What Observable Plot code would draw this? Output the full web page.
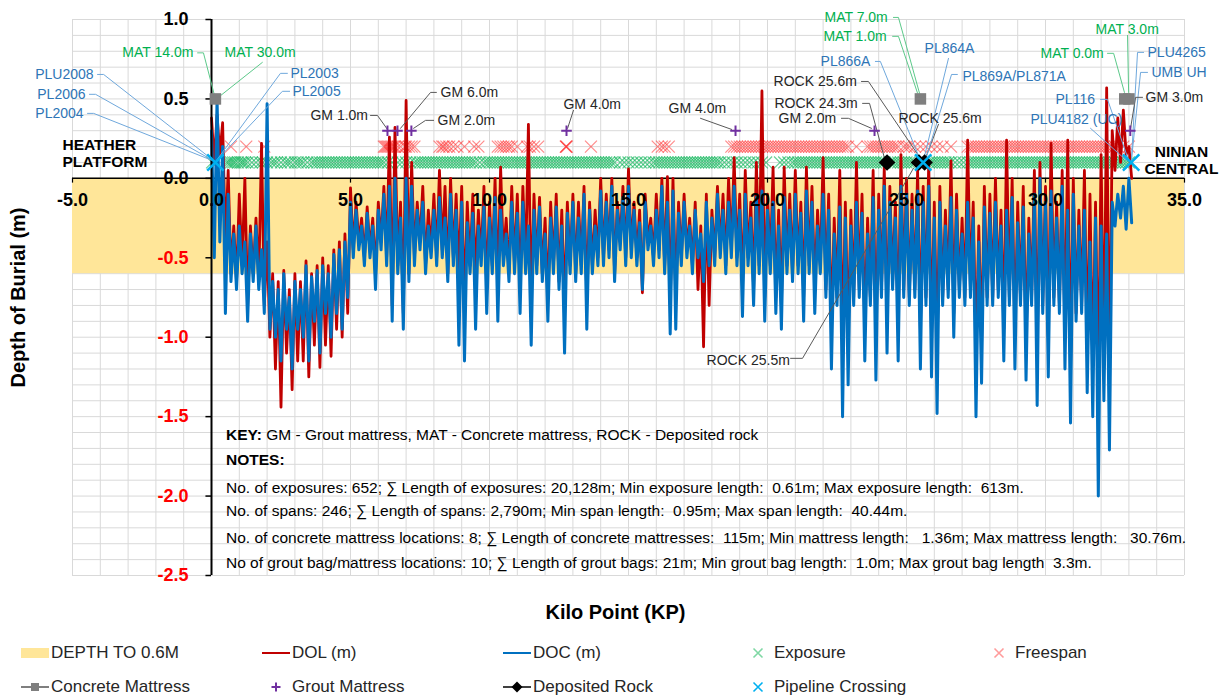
<!DOCTYPE html>
<html><head><meta charset="utf-8">
<script src="https://cdn.jsdelivr.net/npm/d3@7"></script>
<script src="https://cdn.jsdelivr.net/npm/@observablehq/plot@0.6"></script>
<style>
body{margin:0;background:#fff;font-family:"Liberation Sans",Arial,sans-serif;}
#wrap{position:relative;width:1226px;height:697px;overflow:hidden;}
#chart svg{display:block;}
#legend{position:absolute;left:0;top:630px;width:1226px;height:67px;font-size:17px;color:#262626;}
.li{position:absolute;height:20px;line-height:20px;white-space:nowrap;}
.li svg{position:absolute;top:3px;}
</style></head><body><div id="wrap"><div id="chart"></div><div id="legend"></div></div>
<script>
// ---------- axis / tick values ----------
const xDomain = [-5, 35];
const yDomain = [-2.5, 1.0];
const xTicks = [-5, 0, 5, 10, 15, 20, 25, 30, 35];
const yTicks = [1.0, 0.5, 0.0, -0.5, -1.0, -1.5, -2.0, -2.5];
const xGrid = d3.range(-5, 36, 1);
const yGrid = d3.range(-25, 11).map(d => d / 10);
const bandDepth = 0.6;

// ---------- DOC / DOL readings (every 0.2 km: high at KP, low at KP+0.1) ----------
const kpStep = 0.2;
const docHi = [
 0.30,0.50,0.20,-0.10,-0.35,-0.30,-0.40,-0.35,-0.30,-0.45,
 0.47,-0.65,-0.70,-0.60,-0.75,-0.65,-0.70,-0.55,-0.62,-0.58,
 -0.55,-0.60,-0.48,-0.45,-0.40,-0.15,-0.20,-0.30,-0.22,-0.30,
 -0.20,-0.10,-0.05,0.00,-0.25,0.00,-0.05,-0.20,-0.15,-0.30,
 -0.20,-0.12,-0.25,-0.10,-0.20,-0.15,-0.28,-0.22,-0.30,-0.18,
 -0.25,-0.12,-0.20,-0.35,-0.15,-0.22,-0.15,-0.30,-0.20,-0.18,
 -0.35,-0.25,-0.18,-0.30,-0.22,-0.15,-0.25,-0.10,-0.20,-0.30,
 -0.08,-0.15,-0.05,-0.20,-0.12,-0.05,-0.20,-0.28,-0.15,-0.30,
 -0.20,-0.05,-0.15,-0.08,-0.22,-0.15,-0.30,-0.20,-0.35,-0.15,
 -0.25,-0.10,-0.20,-0.15,-0.05,-0.20,-0.10,-0.25,-0.12,-0.08,
 -0.20,-0.15,-0.30,-0.12,-0.20,-0.10,-0.22,-0.08,-0.15,-0.30,
 -0.10,-0.20,-0.35,-0.18,-0.25,-0.30,-0.15,-0.22,-0.35,-0.12,
 -0.20,-0.05,-0.15,-0.25,-0.05,-0.10,-0.20,-0.08,-0.15,-0.05,
 -0.25,-0.15,-0.30,-0.12,-0.20,-0.35,-0.15,-0.25,-0.40,-0.18,
 -0.22,-0.15,-0.30,-0.20,-0.12,-0.28,-0.18,-0.35,-0.10,0.00,
 -0.15,-0.08,-0.25,-0.05,-0.20,-0.10,-0.30,-0.20,-0.40,-0.25,
 -0.30,-0.35,-0.15,-0.10,-0.05,0.00];
const docLo = [
 -0.50,-0.40,-0.85,-0.65,-0.70,-0.60,-0.90,-0.65,-0.70,-0.85,
 -0.95,-1.00,-1.15,-0.95,-1.20,-0.95,-1.00,-1.15,-0.90,-1.10,
 -0.85,-1.00,-0.85,-0.95,-0.75,-0.50,-0.45,-0.55,-0.50,-0.70,
 -0.45,-0.55,-0.90,-0.60,-0.95,-0.65,-0.55,-0.45,-0.60,-0.50,
 -0.55,-0.50,-0.65,-0.55,-1.05,-1.15,-0.60,-0.95,-0.55,-0.85,
 -0.60,-0.90,-0.55,-0.65,-0.60,-0.85,-0.60,-1.05,-0.60,-0.65,
 -0.90,-0.60,-0.70,-1.10,-0.60,-0.65,-0.60,-0.95,-0.60,-0.55,
 -0.55,-0.50,-0.65,-0.45,-0.55,-0.50,-0.55,-0.70,-0.45,-0.55,
 -0.50,-0.60,-0.98,-0.95,-0.55,-0.50,-0.60,-0.50,-0.65,-0.55,
 -0.55,-0.50,-0.60,-0.50,-0.55,-0.87,-0.55,-0.80,-0.60,-0.90,
 -0.60,-0.85,-0.95,-0.60,-0.65,-0.60,-0.90,-0.60,-0.85,-0.60,
 -0.75,-1.20,-0.80,-1.50,-1.30,-0.80,-0.75,-1.15,-0.80,-1.27,
 -0.75,-1.10,-0.70,-1.15,-0.75,-0.80,-0.75,-1.20,-0.80,-1.25,
 -1.48,-0.80,-0.75,-1.00,-0.75,-0.80,-0.75,-1.50,-1.29,-0.80,
 -0.80,-0.75,-1.15,-0.80,-1.20,-0.80,-1.27,-0.80,-1.43,-0.85,
 -1.25,-0.80,-0.85,-1.20,-1.54,-0.90,-0.85,-1.35,-1.50,-2.00,
 -1.40,-1.71,-0.30,-0.25,-0.32,-0.28];
const dolHi = [
 0.38,0.40,0.35,0.05,-0.30,-0.10,0.00,-0.30,-0.25,0.22,
 -0.40,-0.60,-0.65,-0.58,-0.70,-0.60,-0.65,-0.52,-0.60,-0.55,
 -0.50,-0.55,-0.45,-0.40,-0.35,-0.06,-0.15,-0.25,-0.18,-0.25,
 -0.15,-0.05,0.26,0.32,-0.15,0.49,0.10,-0.15,-0.05,-0.20,
 -0.10,0.05,-0.05,0.00,-0.10,-0.05,-0.15,-0.10,-0.20,-0.05,
 -0.15,0.00,0.07,-0.25,-0.05,-0.10,-0.05,0.34,-0.10,-0.12,
 -0.25,-0.15,-0.10,-0.20,-0.15,-0.10,-0.15,-0.05,-0.15,-0.20,
 0.00,-0.10,0.00,-0.15,-0.05,0.06,-0.15,-0.20,-0.10,-0.25,
 -0.10,0.00,0.01,0.00,-0.15,-0.10,-0.25,-0.15,-0.30,-0.10,
 -0.20,-0.05,-0.10,0.00,0.13,-0.10,0.05,-0.15,0.10,0.55,
 -0.10,0.07,-0.20,0.07,-0.10,0.05,-0.15,0.07,-0.05,-0.20,
 0.13,-0.10,-0.25,0.05,-0.15,-0.20,0.10,-0.10,-0.25,0.05,
 -0.10,0.07,-0.05,-0.15,0.15,0.00,-0.10,0.05,-0.05,0.10,
 -0.15,-0.05,-0.20,0.11,-0.10,-0.25,0.24,-0.15,-0.30,-0.05,
 -0.10,0.00,-0.20,0.24,0.00,-0.15,-0.05,-0.25,0.05,0.10,
 -0.05,0.22,-0.15,0.05,0.24,0.00,-0.20,0.05,-0.10,-0.15,
 0.15,0.57,0.30,0.38,0.43,0.20];
const dolLo = [
 0.10,0.15,-0.41,-0.60,-0.65,-0.55,-0.80,-0.60,-0.65,-0.80,
 -1.00,-1.20,-1.44,-1.10,-1.33,-1.15,-1.15,-1.25,-1.05,-1.19,
 -1.05,-1.12,-0.95,-1.00,-0.85,-0.45,-0.40,-0.50,-0.45,-0.60,
 -0.40,-0.50,-0.80,-0.55,-0.85,-0.60,-0.50,-0.40,-0.55,-0.45,
 -0.50,-0.45,-0.60,-0.50,-0.60,-0.80,-0.55,-0.60,-0.50,-0.70,
 -0.55,-0.70,-0.50,-0.60,-0.55,-0.70,-0.55,-0.80,-0.55,-0.60,
 -0.75,-0.55,-0.65,-0.80,-0.55,-0.60,-0.55,-0.75,-0.55,-0.50,
 -0.50,-0.45,-0.60,-0.40,-0.50,-0.45,-0.50,-0.72,-0.40,-0.50,
 -0.45,-0.55,-0.80,-0.75,-0.50,-0.45,-0.55,-0.70,-1.06,-0.80,
 -0.50,-0.45,-0.55,-0.45,-0.50,-0.70,-0.50,-0.70,-0.55,-0.75,
 -0.55,-0.75,-0.80,-0.55,-0.60,-0.55,-0.75,-0.55,-0.70,-0.55,
 -0.70,-0.95,-0.75,-1.05,-1.00,-0.75,-0.70,-0.95,-0.75,-1.00,
 -0.70,-0.90,-0.65,-0.95,-0.70,-0.75,-0.70,-0.95,-0.75,-1.00,
 -1.10,-0.75,-0.70,-0.85,-0.70,-0.75,-0.70,-1.10,-1.05,-0.75,
 -0.75,-0.70,-0.95,-0.75,-1.00,-0.75,-1.05,-0.75,-1.10,-0.80,
 -1.00,-0.75,-0.80,-1.00,-1.20,-0.85,-0.80,-1.10,-1.20,-1.30,
 -1.20,-1.30,0.05,0.10,0.15,0.00];

// ---------- event markers ----------
const exposureLevel = 0.1, freespanLevel = 0.2, groutLevel = 0.3, mattressLevel = 0.5, rockLevel = 0.1, crossingLevel = 0.1;
const exposureKP = [0.02,0.55,0.62,0.7,0.78,0.85,0.95,1.05,1.12,1.2,1.3,1.45,1.6,1.75,1.85,2.0,2.15,2.25,2.35,2.5,2.65,2.75,2.85,3.0,3.1,3.2,3.3,3.45,3.6,3.7,3.8,3.9,4.0,4.1,4.2,4.3,4.4,4.5,4.6,4.7,4.8,4.9,5.0,
 5.1,5.2,5.3,5.4,5.5,5.6,5.7,5.8,5.9,6.0,6.1,6.2,6.35,6.5,6.7,6.85,7.0,7.15,7.3,7.4,7.5,7.6,7.7,7.8,7.9,8.0,8.1,8.2,8.3,8.4,8.5,8.6,8.7,8.8,8.9,9.0,9.1,9.2,9.3,9.4,9.5,
 9.65,9.8,9.9,10.0,10.1,10.2,10.3,10.4,10.5,10.6,10.7,10.8,10.9,11.0,11.1,11.2,11.3,11.4,11.5,11.6,11.7,11.8,11.9,12.0,12.1,12.2,12.3,12.4,12.5,12.6,12.7,12.8,12.9,13.0,13.1,13.2,13.3,13.4,13.5,13.6,13.7,13.8,13.9,14.0,
 14.1,14.2,14.3,14.4,14.5,14.7,14.85,15.0,15.15,15.3,15.45,15.6,15.75,15.9,16.0,16.1,16.2,16.3,16.4,16.5,16.6,16.7,16.8,16.9,17.0,17.1,17.2,17.3,17.4,17.5,17.6,17.7,17.8,17.9,18.0,18.1,18.2,18.3,18.45,18.6,18.75,18.9,19.05,19.2,19.35,19.5,19.65,19.8,19.95,
 20.45,20.6,20.75,20.9,21.0,21.1,21.2,21.3,21.4,21.5,21.6,21.7,21.8,21.9,22.0,22.1,22.2,22.3,22.4,22.5,22.6,22.7,22.8,22.9,23.0,23.1,23.2,23.3,23.4,23.5,23.6,23.7,23.8,23.9,24.0,24.1,24.2,24.4,24.5,24.6,24.7,24.8,24.9,25.0,25.1,25.2,25.3,25.8,25.9,26.0,
 26.1,26.2,26.3,26.4,26.5,26.6,26.75,26.9,27.05,27.2,27.3,27.4,27.5,27.6,27.7,27.8,27.9,28.0,28.1,28.2,28.3,28.4,28.5,28.6,28.7,28.8,28.9,29.0,29.1,29.2,29.3,29.4,29.5,29.6,29.7,29.8,29.9,30.0,30.1,30.2,30.3,30.4,30.5,30.6,30.7,30.8,30.9,31.0,31.1,31.2,31.3,31.4,31.5,31.6,31.7,31.8,31.9,32.0,32.1,32.2,32.3,32.4,32.5,32.6,32.7,32.8,32.9,33.0];
const freespanKP = [0.7,1.25,1.9,6.2,6.25,6.3,6.35,6.4,6.45,6.5,6.55,6.6,6.7,6.8,6.95,7.0,7.1,7.2,7.3,8.2,8.3,8.35,8.45,8.55,8.7,8.85,9.1,9.45,9.6,10.3,10.4,10.5,10.6,10.7,10.8,11.0,11.35,11.45,11.6,11.75,12.75,12.75,12.78,13.65,16.05,16.2,16.3,16.45,
 18.7,18.8,18.9,19.0,19.1,19.2,19.3,19.4,19.5,19.6,19.7,19.8,19.9,20.0,20.1,20.2,20.3,20.4,20.5,20.6,20.7,20.8,20.9,21.0,21.1,21.2,21.3,21.4,21.5,21.6,21.7,21.8,21.9,22.0,22.1,22.2,22.3,22.4,22.5,22.6,22.7,22.8,22.9,
 23.2,23.6,23.7,23.8,23.9,24.0,24.1,24.2,24.3,24.4,24.5,24.6,24.7,24.9,25.0,25.1,25.3,25.5,25.7,25.9,26.1,26.3,26.6,
 27.2,27.3,27.4,27.5,27.6,27.7,27.8,27.9,28.0,28.1,28.2,28.3,28.4,28.5,28.6,28.7,28.8,28.9,29.0,29.1,29.2,29.3,29.4,29.5,29.6,29.7,29.8,29.9,30.0,30.1,30.2,30.3,30.4,30.5,30.6,30.7,30.8,30.9,31.0,31.1,31.2,31.3,31.4,31.5,31.6,31.7,31.8,31.9,32.0,32.1,32.2,32.3,32.4,32.5,32.6,32.8,33.0];
const mattressKP = [0.14, 25.5, 32.85, 33.0];
const groutKP = [6.33, 6.69, 7.19, 12.77, 18.85, 23.85, 33.05];
const rockKP = [24.3, 25.45, 25.65];
const crossingKP = [0.14, 25.6, 33.08];

// ---------- annotation labels (data coordinates) with leader polylines ----------
const GREEN = "#00b050", GREENL = "#5cc98a", BLUE = "#2e75b6", BLUEL = "#6fa8dc", DARK = "#262626", DARKL = "#595959";
const labels = [
 {t:"MAT 14.0m", x:-0.65, y:0.79, a:"end", c:GREEN, lc:GREENL, lead:[[-0.50,0.79],[-0.29,0.79],[0.11,0.52]]},
 {t:"MAT 30.0m", x:0.47, y:0.79, a:"start", c:GREEN, lc:GREENL, lead:[[1.83,0.73],[0.29,0.516]]},
 {t:"PLU2008", x:-4.24, y:0.654, a:"end", c:BLUE, lc:BLUEL, lead:[[-4.10,0.654],[-3.88,0.654],[0.11,0.107]]},
 {t:"PL2006", x:-4.53, y:0.529, a:"end", c:BLUE, lc:BLUEL, lead:[[-4.39,0.529],[-4.17,0.529],[0.11,0.107]]},
 {t:"PL2004", x:-4.60, y:0.409, a:"end", c:BLUE, lc:BLUEL, lead:[[-4.46,0.409],[-4.24,0.409],[0.11,0.107]]},
 {t:"PL2003", x:2.84, y:0.661, a:"start", c:BLUE, lc:BLUEL, lead:[[2.73,0.661],[2.48,0.661],[0.18,0.113]]},
 {t:"PL2005", x:2.91, y:0.548, a:"start", c:BLUE, lc:BLUEL, lead:[[2.81,0.548],[2.55,0.548],[0.18,0.113]]},
 {t:"GM 1.0m", x:3.56, y:0.396, a:"start", c:DARK, lc:DARKL, lead:[[5.72,0.396],[5.97,0.396],[6.33,0.308]]},
 {t:"GM 6.0m", x:8.24, y:0.541, a:"start", c:DARK, lc:DARKL, lead:[[8.09,0.541],[7.88,0.541],[6.80,0.315]]},
 {t:"GM 2.0m", x:8.13, y:0.365, a:"start", c:DARK, lc:DARKL, lead:[[7.99,0.365],[7.70,0.365],[7.27,0.315]]},
 {t:"GM 4.0m", x:12.66, y:0.466, a:"start", c:DARK, lc:DARKL, lead:[[13.02,0.428],[12.81,0.315]]},
 {t:"GM 4.0m", x:16.44, y:0.441, a:"start", c:DARK, lc:DARKL, lead:[[17.59,0.378],[18.71,0.308]]},
 {t:"GM 2.0m", x:20.40, y:0.378, a:"start", c:DARK, lc:DARKL, lead:[[22.66,0.378],[22.91,0.378],[23.74,0.315]]},
 {t:"ROCK 24.3m", x:20.25, y:0.472, a:"start", c:DARK, lc:DARKL, lead:[[23.42,0.472],[23.67,0.472],[24.21,0.126]]},
 {t:"ROCK 25.6m", x:20.22, y:0.610, a:"start", c:DARK, lc:DARKL, lead:[[23.38,0.610],[23.63,0.610],[25.50,0.126]]},
 {t:"ROCK 25.6m", x:24.71, y:0.378, a:"start", c:DARK, lc:DARKL, lead:[[26.15,0.340],[25.68,0.126]]},
 {t:"ROCK 25.5m", x:17.81, y:-1.145, a:"start", c:DARK, lc:DARKL, lead:[[20.83,-1.133],[21.26,-1.133],[25.25,0.063]]},
 {t:"MAT 7.0m", x:22.05, y:1.013, a:"start", c:GREEN, lc:GREENL, lead:[[24.53,1.013],[24.71,1.013],[25.47,0.535]]},
 {t:"MAT 1.0m", x:22.01, y:0.894, a:"start", c:GREEN, lc:GREENL, lead:[[24.50,0.894],[24.71,0.894],[25.40,0.535]]},
 {t:"PL866A", x:21.91, y:0.736, a:"start", c:BLUE, lc:BLUEL, lead:[[23.88,0.736],[24.06,0.736],[25.50,0.113]]},
 {t:"PL864A", x:25.65, y:0.818, a:"start", c:BLUE, lc:BLUEL, lead:[[26.51,0.755],[25.61,0.113]]},
 {t:"PL869A/PL871A", x:27.01, y:0.642, a:"start", c:BLUE, lc:BLUEL, lead:[[26.83,0.654],[26.62,0.654],[25.68,0.113]]},
 {t:"MAT 3.0m", x:31.80, y:0.938, a:"start", c:GREEN, lc:GREENL, lead:[[32.95,0.90],[32.99,0.541]]},
 {t:"MAT 0.0m", x:29.82, y:0.787, a:"start", c:GREEN, lc:GREENL, lead:[[32.23,0.787],[32.45,0.787],[32.84,0.541]]},
 {t:"PLU4265", x:33.67, y:0.793, a:"start", c:BLUE, lc:BLUEL, lead:[[33.53,0.793],[33.31,0.793],[33.09,0.113]]},
 {t:"UMB UH", x:33.81, y:0.667, a:"start", c:BLUE, lc:BLUEL, lead:[[33.67,0.667],[33.42,0.667],[33.09,0.113]]},
 {t:"GM 3.0m", x:33.60, y:0.510, a:"start", c:DARK, lc:DARKL, lead:[[33.49,0.510],[33.24,0.510],[33.06,0.315]]},
 {t:"PL116", x:30.36, y:0.497, a:"start", c:BLUE, lc:BLUEL, lead:[[31.98,0.497],[32.23,0.497],[32.99,0.113]]},
 {t:"PLU4182 (UC)", x:29.46, y:0.371, a:"start", c:BLUE, lc:BLUEL, lead:[[31.62,0.315],[32.91,0.113]]}
];
const endLabels = [
 {t:"HEATHER", x:-5.36, y:0.208, a:"start"},
 {t:"PLATFORM", x:-5.36, y:0.101, a:"start"},
 {t:"NINIAN", x:34.89, y:0.164, a:"middle"},
 {t:"CENTRAL", x:34.89, y:0.057, a:"middle"}
];
const notes = [
 {bold:"KEY:", t:" GM - Grout mattress, MAT - Concrete mattress, ROCK - Deposited rock", y:-1.617},
 {bold:"NOTES:", t:"", y:-1.775},
 {bold:"", t:"No. of exposures: 652; \u2211 Length of exposures: 20,128m; Min exposure length:  0.61m; Max exposure length:  613m.", y:-1.951},
 {bold:"", t:"No. of spans: 246; \u2211 Length of spans: 2,790m; Min span length:  0.95m; Max span length:  40.44m.", y:-2.096},
 {bold:"", t:"No. of concrete mattress locations: 8; \u2211 Length of concrete mattresses:  115m; Min mattress length:   1.36m; Max mattress length:   30.76m.", y:-2.266},
 {bold:"", t:"No of grout bag/mattress locations: 10; \u2211 Length of grout bags: 21m; Min grout bag length:  1.0m; Max grout bag length  3.3m.", y:-2.423}
];
const notesX = 0.54;

// ---------- build tables ----------
function zig(hi, lo) {
  const out = [];
  hi.forEach((h, i) => {
    out.push({kp: +(i * kpStep).toFixed(2), v: h});
    out.push({kp: +(i * kpStep + kpStep / 2).toFixed(2), v: lo[i]});
  });
  return out;
}
const dol = zig(dolHi, dolLo);
const doc = zig(docHi, docLo);
const leaders = labels.flatMap((l, i) => l.lead.map(p => ({id: i, x: p[0], y: p[1], c: l.lc})));

const font = "'Liberation Sans', Arial, sans-serif";
const plot = Plot.plot({
  width: 1226, height: 630,
  marginLeft: 72, marginRight: 42, marginTop: 19, marginBottom: 55,
  x: {domain: xDomain, axis: null},
  y: {domain: yDomain, axis: null},
  color: {type: "identity"},
  style: {fontFamily: font, background: "white", overflow: "visible"},
  marks: [
    Plot.ruleX(xGrid, {y1: yDomain[0], y2: yDomain[1], stroke: "#d9d9d9", strokeWidth: 1}),
    Plot.ruleY(yGrid, {x1: xDomain[0], x2: xDomain[1], stroke: "#d9d9d9", strokeWidth: 1}),
    Plot.rect([{x1: xDomain[0], x2: xDomain[1], y1: -bandDepth, y2: 0}], {x1: "x1", x2: "x2", y1: "y1", y2: "y2", fill: "#ffe699"}),
    Plot.ruleY([0], {x1: xDomain[0], x2: xDomain[1], stroke: "black", strokeWidth: 1.5}),
    Plot.ruleX(xTicks, {y1: 0, y2: -0.03, stroke: "black", strokeWidth: 1.2}),
    Plot.dot(exposureKP, {x: d => d, y: exposureLevel, symbol: "times", r: 5.5, stroke: "#00b050", strokeOpacity: 0.6, strokeWidth: 1.2}),
    Plot.dot(freespanKP, {x: d => d, y: freespanLevel, symbol: "times", r: 5.5, stroke: "#ff1a1a", strokeOpacity: 0.5, strokeWidth: 1.2}),
    Plot.line(dol, {x: "kp", y: "v", stroke: "#c00000", strokeWidth: 2.8}),
    Plot.line(doc, {x: "kp", y: "v", stroke: "#0070c0", strokeWidth: 3}),
    Plot.ruleX([0], {y1: yDomain[0], y2: yDomain[1], stroke: "black", strokeWidth: 2}),
    Plot.ruleY(yTicks, {x1: -0.2, x2: 0, stroke: "black", strokeWidth: 1.5}),
    Plot.line(leaders, {x: "x", y: "y", z: "id", stroke: "c", strokeWidth: 1}),
    Plot.dot(mattressKP, {x: d => d, y: mattressLevel, symbol: "square", r: 6.5, fill: "#7f7f7f"}),
    Plot.dot(groutKP, {x: d => d, y: groutLevel, symbol: "plus", r: 3.5, stroke: "#7030a0", strokeWidth: 2}),
    Plot.dot(rockKP, {x: d => d, y: rockLevel, symbol: "diamond2", r: 7.5, fill: "black"}),
    Plot.dot(crossingKP, {x: d => d, y: crossingLevel, symbol: "times", r: 7.5, stroke: "#00b0f0", strokeWidth: 2.5}),
    // tick labels
    Plot.text(yTicks, {x: 0, y: d => d, text: d => d.toFixed(1), dx: -23, textAnchor: "end", fill: d => d < 0 ? "#ff0000" : "black", fontSize: 18, fontWeight: "bold"}),
    Plot.text(xTicks, {x: d => d, y: 0, text: d => d.toFixed(1), dy: 22, textAnchor: "middle", fill: "black", fontSize: 18, fontWeight: "bold"}),
    // axis titles
    Plot.text(["Kilo Point (KP)"], {x: 14.53, y: -2.731, text: d => d, fontSize: 20, fontWeight: "bold", fill: "black"}),
    Plot.text(["Depth of Burial (m)"], {x: -6.94, y: -0.75, text: d => d, rotate: -90, fontSize: 20, fontWeight: "bold", fill: "black"}),
    // annotation labels
    Plot.text(labels.filter(d => d.a === "start"), {x: "x", y: "y", text: "t", fill: "c", textAnchor: "start", fontSize: 14}),
    Plot.text(labels.filter(d => d.a === "end"), {x: "x", y: "y", text: "t", fill: "c", textAnchor: "end", fontSize: 14}),
    Plot.text(endLabels.filter(d => d.a === "start"), {x: "x", y: "y", text: "t", textAnchor: "start", fontSize: 15.5, fontWeight: "bold", fill: "black"}),
    Plot.text(endLabels.filter(d => d.a === "middle"), {x: "x", y: "y", text: "t", textAnchor: "middle", fontSize: 15.5, fontWeight: "bold", fill: "black"})
  ]
});
document.getElementById("chart").appendChild(plot);

// ---------- notes block (positioned through the plot's own scales) ----------
function hasFont(name) {
  const c = document.createElement("canvas").getContext("2d");
  const s = "abcdefghijklmnopqrstuvwxyzABCDEFGHIJ0123456789";
  c.font = "40px monospace"; const a = c.measureText(s).width;
  c.font = `40px '${name}', monospace`; const b = c.measureText(s).width;
  return Math.abs(a - b) > 0.5;
}
const narrow = hasFont("Liberation Sans Narrow");
const notesFont = narrow ? "'Liberation Sans Narrow', 'Liberation Sans', Arial, sans-serif" : font;
const notesSize = narrow ? 19 : 15.5;
const sx = plot.scale("x"), sy = plot.scale("y");
const g = d3.select(plot).append("g")
  .attr("font-family", notesFont).attr("font-size", notesSize)
  .attr("fill", "black").attr("text-anchor", "start");
notes.forEach(n => {
  const t = g.append("text").attr("x", sx.apply(notesX)).attr("y", sy.apply(n.y)).attr("dy", "0.35em")
    .attr("text-anchor", "start").style("white-space", "pre");
  if (n.bold) t.append("tspan").attr("font-weight", "bold").text(n.bold);
  if (n.t) t.append("tspan").text(n.t);
});

// ---------- legend ----------
const legendItems = [
 {label: "DEPTH TO 0.6M", col: 0, row: 0, sym: "band"},
 {label: "DOL (m)", col: 1, row: 0, sym: "line", c: "#c00000"},
 {label: "DOC (m)", col: 2, row: 0, sym: "line", c: "#0070c0"},
 {label: "Exposure", col: 3, row: 0, sym: "times", c: "#7fd8a4"},
 {label: "Freespan", col: 4, row: 0, sym: "times", c: "#ff9b9b"},
 {label: "Concrete Mattress", col: 0, row: 1, sym: "sq"},
 {label: "Grout Mattress", col: 1, row: 1, sym: "plus"},
 {label: "Deposited Rock", col: 2, row: 1, sym: "dia"},
 {label: "Pipeline Crossing", col: 3, row: 1, sym: "times", c: "#00b0f0"}
];
const colX = [21, 262, 503, 744, 985];
const rowY = [23, 57];
function symSvg(it) {
  const s = it.sym;
  let inner = "";
  if (s === "band") inner = `<rect x="0" y="2" width="28" height="10" fill="#ffe699"/>`;
  if (s === "line") inner = `<line x1="0" x2="28" y1="7" y2="7" stroke="${it.c}" stroke-width="2"/>`;
  if (s === "times") inner = `<path d="M9.5,2.5L18.5,11.5M18.5,2.5L9.5,11.5" stroke="${it.c}" stroke-width="1.6" fill="none"/>`;
  if (s === "sq") inner = `<line x1="0" x2="28" y1="7" y2="7" stroke="#7f7f7f" stroke-width="2"/><rect x="10" y="3" width="8" height="8" fill="#7f7f7f"/>`;
  if (s === "plus") inner = `<path d="M14,2.5V11.5M9.5,7H18.5" stroke="#7030a0" stroke-width="2" fill="none"/>`;
  if (s === "dia") inner = `<line x1="0" x2="28" y1="7" y2="7" stroke="#404040" stroke-width="2"/><path d="M14,1.5L19.5,7L14,12.5L8.5,7Z" fill="black"/>`;
  return `<svg width="28" height="14" viewBox="0 0 28 14">${inner}</svg>`;
}
const leg = document.getElementById("legend");
legendItems.forEach(it => {
  const y = rowY[it.row] - 10;
  const a = document.createElement("div");
  a.className = "li"; a.style.left = colX[it.col] + "px"; a.style.top = y + "px";
  a.innerHTML = symSvg(it);
  leg.appendChild(a);
  const b = document.createElement("div");
  b.className = "li"; b.style.left = (colX[it.col] + 30) + "px"; b.style.top = y + "px";
  b.textContent = it.label;
  leg.appendChild(b);
});
</script></body></html>
